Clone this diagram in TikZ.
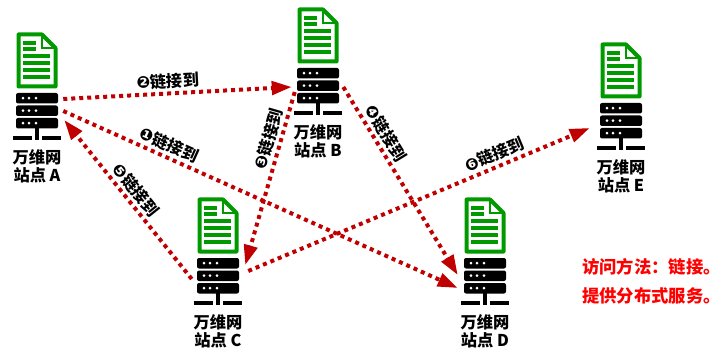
\documentclass[tikz,border=0pt]{standalone}
\usepackage{fontspec}
\setmainfont{Noto Sans CJK SC}
\newfontfamily\numfont{DejaVu Sans}
\usetikzlibrary{arrows.meta, calc}
\definecolor{docGreen}{HTML}{009900}
\definecolor{linkRed}{HTML}{C00000}
\tikzset{
    srvbox/.style={minimum width=31.5pt, minimum height=27pt, inner sep=0pt},
    sitelabel/.style={font=\bfseries\fontsize{12.2}{13.5}\selectfont, align=center, inner sep=0pt},
    link/.style={linkRed, line width=3pt, dash pattern=on 3pt off 3pt, -{Triangle[length=15pt, width=10pt]}},
    linklabel/.style={font=\bfseries\fontsize{12.2}{13}\selectfont, text=black, sloped, above=2pt, inner sep=0pt},
    note/.style={font=\bfseries\fontsize{13}{14}\selectfont, text=red, anchor=west, inner sep=0pt}
}
% one site: name, x, y of document top, letter
\newcommand{\site}[4]{
    \begin{scope}[shift={(#2,#3)}]
        % document
        \draw[docGreen, line width=3pt, line join=round, fill=white] (-18.5,1.5) -- (5,1.5) -- (18.5,15) -- (18.5,53.5) -- (-18.5,53.5) -- cycle;
        \draw[docGreen, line width=2.2pt] (5,1.5) -- (5,15) -- (18.5,15);
        \foreach \y in {10,16}
            \draw[docGreen, line width=2.3pt] (-14,\y) -- (-1,\y);
        \foreach \y in {23,30,37,44}
            \draw[docGreen, line width=2.3pt] (-14,\y) -- (13,\y);
        % server
        \node[srvbox] (srv#1) at (0,78) {};
        \foreach \y in {60,72.5,85} {
            \fill[black, rounded corners=1.5pt] (-21,\y) rectangle (21,\y+10.5);
            \foreach \x in {-14,-8,-1}
                \fill[white] (\x,\y+5.2) circle (1.1pt);
        }
        \draw[black, line width=2.4pt] (0,95) -- (0,105);
        \draw[black, line width=2.4pt] (-24,105) -- (-5,105);
        \draw[black, line width=2.4pt] (-2,105) -- (2,105);
        \draw[black, line width=2.4pt] (5,105) -- (24,105);
        \node[sitelabel] (label#1) at (0,133) {万维网\\站点 #4};
    \end{scope}
}
\begin{document}
\begin{tikzpicture}[x=0.75pt, y=-0.75pt]
    \useasboundingbox (0,0) rectangle (721,349);

    \site{A}{37}{33}{A}
    \site{B}{318}{8}{B}
    \site{C}{218}{198}{C}
    \site{D}{485}{198}{D}
    \site{E}{621}{43}{E}

    % links
    \draw[link] ($(srvA.east)+(5,0)$) -- ($(srvD.west)+(-6,12)$)
        node[linklabel, pos=0.255] (linkone) {{\numfont ❶}链接到};
    \draw[link] ($(srvA.east)+(5,-12)$) -- ($(srvB.west)+(-5,1)$)
        node[linklabel, pos=0.46] (linktwo) {{\numfont ❷}链接到};
    \draw[link] ($(srvB.west)+(-2,6)$) -- ($(srvC.east)+(6,-11)$)
        node[linklabel, pos=0.29] (linkthree) {{\numfont ❸}链接到};
    \draw[link] ($(srvB.east)+(4,1)$) -- ($(srvD.west)+(-6,-1)$)
        node[linklabel, pos=0.28] (linkfour) {{\numfont ❹}链接到};
    \draw[link] ($(srvC.west)+(-5,3)$) -- ($(srvA.east)+(6,9)$)
        node[linklabel, pos=0.512] (linkfive) {{\numfont ❺}链接到};
    \draw[link] ($(srvC.east)+(9,-5)$) -- ($(srvE.west)+(-10,7)$)
        node[linklabel, pos=0.735] (linksix) {{\numfont ❻}链接到};

    \node[note] (noteone) at (582,267) {访问方法\symbol{"FF1A}链接。};
    \node[note] (notetwo) at (582,296) {提供分布式服务。};
\end{tikzpicture}
\end{document}
